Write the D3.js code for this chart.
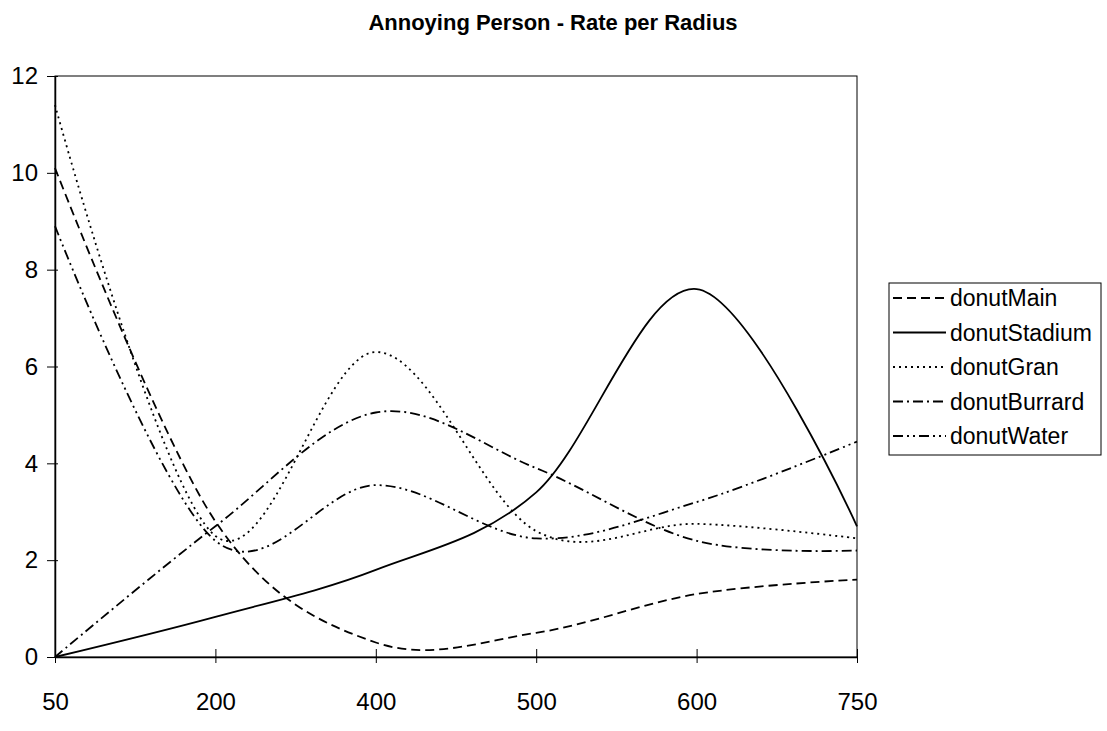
<!DOCTYPE html>
<html><head><meta charset="utf-8">
<script src="https://cdn.jsdelivr.net/npm/d3@7"></script>
<style>body{margin:0;background:#fff}svg{display:block}text{font-family:"Liberation Sans",Arial,sans-serif;fill:#000}</style>
</head><body>
<svg id="c" width="1107" height="731"></svg>
<script>
const categories = ["50","200","400","500","600","750"];
const donutMain    = [10.1, 2.8, 0.3, 0.5, 1.3, 1.6];
const donutStadium = [0, 0.83, 1.8, 3.4, 7.6, 2.7];
const donutGran    = [11.4, 2.5, 6.3, 2.6, 2.75, 2.45];
const donutBurrard = [0, 2.7, 5.05, 3.9, 2.4, 2.2];
const donutWater   = [8.9, 2.4, 3.55, 2.45, 3.2, 4.45];
const yTicks = [0, 2, 4, 6, 8, 10, 12];
const seriesNames = ["donutMain","donutStadium","donutGran","donutBurrard","donutWater"];

const series = [
  {name: seriesNames[0], values: donutMain, dash: "9,5"},
  {name: seriesNames[1], values: donutStadium, dash: null},
  {name: seriesNames[2], values: donutGran, dash: "2,4"},
  {name: seriesNames[3], values: donutBurrard, dash: "10,4,2,4"},
  {name: seriesNames[4], values: donutWater, dash: "10,4,2,4,2,4"}
];

const svg = d3.select("#c");
const L = 55, R = 857, T = 76, B = 657;
const x = d3.scalePoint().domain(categories).range([L, R]);
const y = d3.scaleLinear().domain([0, 12]).range([B, T]);

svg.append("text").attr("x", 553).attr("y", 30).attr("text-anchor", "middle")
  .style("font-weight", "bold").style("font-size", "22px").text("Annoying Person - Rate per Radius");

// plot frame
svg.append("rect").attr("x", L).attr("y", T).attr("width", R - L).attr("height", B - T)
  .attr("fill", "none").attr("stroke", "#000").attr("stroke-width", 1);

// y axis
const ya = svg.append("g").attr("transform", `translate(${L},0)`)
  .call(d3.axisLeft(y).tickValues(yTicks).tickSize(8).tickPadding(9).tickSizeOuter(0));
ya.select(".domain").attr("stroke-width", 1.5);
ya.selectAll(".tick text").style("font-size", "24px");
ya.selectAll(".tick line").attr("x2", 3).attr("x1", -8);

// x axis
const xa = svg.append("g").attr("transform", `translate(0,${B})`)
  .call(d3.axisBottom(x).tickSize(7).tickPadding(29).tickSizeOuter(0));
xa.select(".domain").attr("stroke-width", 1.5);
xa.selectAll(".tick text").style("font-size", "24px");
xa.selectAll(".tick line").attr("y1", -8).attr("y2", 6);

const line = d3.line().x((d, i) => x(categories[i])).y(d => y(d))
  .curve(d3.curveCardinal.tension(0));

svg.append("g").selectAll("path").data(series).join("path")
  .attr("d", d => line(d.values))
  .attr("fill", "none").attr("stroke", "#000").attr("stroke-width", 1.8)
  .attr("stroke-dasharray", d => d.dash);

// legend
const lg = svg.append("g");
lg.append("rect").attr("x", 889).attr("y", 283).attr("width", 212).attr("height", 172)
  .attr("fill", "#fff").attr("stroke", "#000").attr("stroke-width", 1);
series.forEach((s, i) => {
  const yy = 298 + i * 34.5;
  lg.append("line").attr("x1", 893).attr("x2", 946).attr("y1", yy).attr("y2", yy)
    .attr("stroke", "#000").attr("stroke-width", 1.8).attr("stroke-dasharray", s.dash);
  lg.append("text").attr("x", 950).attr("y", yy + 8).style("font-size", "23px").text(s.name);
});
</script>
</body></html>
